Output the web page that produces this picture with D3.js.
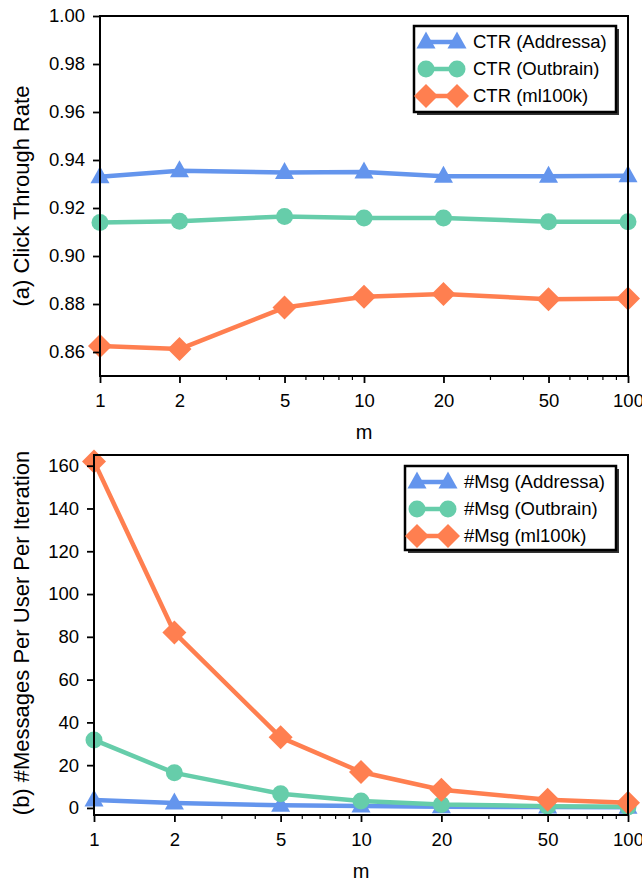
<!DOCTYPE html>
<html>
<head>
<meta charset="utf-8">
<script src="https://cdn.jsdelivr.net/npm/d3@7"></script>
<style>
  body { margin: 0; background: #fff; }
  text { font-family: "Liberation Sans", Arial, sans-serif; fill: #000; }
</style>
</head>
<body>
<svg width="642" height="887"></svg>
<script>
const svg = d3.select('svg');

// data
const mValues = [1, 2, 5, 10, 20, 50, 100];
const xTickLabels = ['1', '2', '5', '10', '20', '50', '100'];
const minorTicks = [3, 4, 6, 7, 8, 9, 30, 40, 60, 70, 80, 90];

const ctrAddressa = [0.9330, 0.9355, 0.9348, 0.9350, 0.9332, 0.9332, 0.9334];
const ctrOutbrain = [0.9140, 0.9145, 0.9165, 0.9158, 0.9158, 0.9143, 0.9143];
const ctrMl100k   = [0.8625, 0.8612, 0.8785, 0.8830, 0.8842, 0.8820, 0.8823];

const msgAddressa = [3.7, 2.3, 1.2, 0.9, 0.6, 0.4, 0.3];
const msgOutbrain = [31.8, 16.4, 6.6, 3.2, 1.6, 0.8, 0.5];
const msgMl100k   = [162, 82, 33, 16.8, 8.5, 3.8, 2.4];

const ctrTicks = [0.86, 0.88, 0.90, 0.92, 0.94, 0.96, 0.98, 1.00];
const msgTicks = [0, 20, 40, 60, 80, 100, 120, 140, 160];

const colors = { addressa: '#6495ED', outbrain: '#66CDAA', ml100k: '#FF7F50' };

// marker shapes (relative to point)
const markerPath = {
  tri: 'M0,-10.5L9.5,6.5L-9.5,6.5Z',
  circ: 'M8.5,0A8.5,8.5 0 1,1 -8.5,0A8.5,8.5 0 1,1 8.5,0Z',
  dia: 'M0,-12L12,0L0,12L-12,0Z'
};

function drawPanel(opts) {
  const x = d3.scaleLog().domain([1, 100]).range([opts.left, opts.right]);
  const y = d3.scaleLinear().domain(opts.yDomain).range([opts.bottom, opts.top]);
  const g = svg.append('g');

  // series
  opts.series.forEach(s => {
    const line = d3.line().x((d, i) => x(mValues[i])).y(d => y(d));
    g.append('path')
      .attr('d', line(s.values))
      .attr('fill', 'none')
      .attr('stroke', s.color)
      .attr('stroke-width', 4.5)
      .attr('stroke-linejoin', 'round');
    g.selectAll(null).data(s.values).enter().append('path')
      .attr('d', markerPath[s.marker])
      .attr('transform', (d, i) => `translate(${x(mValues[i])},${y(d)})`)
      .attr('fill', s.color);
  });

  // frame
  g.append('rect')
    .attr('x', opts.left).attr('y', opts.top)
    .attr('width', opts.right - opts.left).attr('height', opts.bottom - opts.top)
    .attr('fill', 'none').attr('stroke', '#000').attr('stroke-width', 2);

  // x axis
  const xAxis = g.append('g').attr('transform', `translate(0,${opts.bottom})`)
    .call(d3.axisBottom(x).tickValues(mValues).tickFormat((d, i) => xTickLabels[i])
      .tickSize(7).tickPadding(11));
  xAxis.select('.domain').remove();
  xAxis.selectAll('line').attr('stroke-width', 1.8);
  xAxis.selectAll('text').attr('font-size', 18.5);
  const xMinor = g.append('g').attr('transform', `translate(0,${opts.bottom})`)
    .call(d3.axisBottom(x).tickValues(minorTicks).tickFormat('').tickSize(4));
  xMinor.select('.domain').remove();
  xMinor.selectAll('line').attr('stroke-width', 1.2);

  // y axis
  const yAxis = g.append('g').attr('transform', `translate(${opts.left},0)`)
    .call(d3.axisLeft(y).tickValues(opts.yTicks).tickFormat(opts.yFormat)
      .tickSize(7).tickPadding(8));
  yAxis.select('.domain').remove();
  yAxis.selectAll('line').attr('stroke-width', 1.8);
  yAxis.selectAll('text').attr('font-size', 18.5);

  // labels
  g.append('text')
    .attr('x', (opts.left + opts.right) / 2).attr('y', opts.bottom + 63)
    .attr('text-anchor', 'middle').attr('font-size', 20).text('m');
  g.append('text')
    .attr('transform', `translate(${opts.yLabelX},${opts.yLabelY}) rotate(-90)`)
    .attr('text-anchor', 'middle').attr('font-size', 22).text(opts.yLabel);

  // legend
  const L = opts.legend;
  const lg = g.append('g').attr('transform', `translate(${L.x},${L.y})`);
  lg.append('rect').attr('x', 3).attr('y', 3).attr('width', L.w).attr('height', L.h)
    .attr('fill', '#333');
  lg.append('rect').attr('width', L.w).attr('height', L.h)
    .attr('fill', '#fff').attr('stroke', '#000').attr('stroke-width', 2.5);
  opts.series.forEach((s, i) => {
    const cy = 16 + i * 27;
    lg.append('line').attr('x1', 12).attr('x2', 43).attr('y1', cy).attr('y2', cy)
      .attr('stroke', s.color).attr('stroke-width', 4.5);
    [12, 43].forEach(cx => lg.append('path').attr('d', markerPath[s.marker])
      .attr('transform', `translate(${cx},${cy})`).attr('fill', s.color));
    lg.append('text').attr('x', L.tx).attr('y', cy).attr('dy', '0.35em')
      .attr('font-size', 18.5).text(s.label);
  });
}

drawPanel({
  left: 100, right: 628, top: 16, bottom: 376,
  yDomain: [0.85, 1.0], yTicks: ctrTicks, yFormat: d3.format('.2f'),
  yLabel: '(a) Click Through Rate', yLabelX: 29, yLabelY: 196,
  legend: { x: 414, y: 26, w: 202, h: 86, tx: 59 },
  series: [
    { values: ctrAddressa, color: colors.addressa, marker: 'tri', label: 'CTR (Addressa)' },
    { values: ctrOutbrain, color: colors.outbrain, marker: 'circ', label: 'CTR (Outbrain)' },
    { values: ctrMl100k, color: colors.ml100k, marker: 'dia', label: 'CTR (ml100k)' }
  ]
});

drawPanel({
  left: 94, right: 628, top: 455, bottom: 815,
  yDomain: [-3.3, 165], yTicks: msgTicks, yFormat: d3.format('d'),
  yLabel: '(b) #Messages Per User Per Iteration', yLabelX: 29, yLabelY: 633,
  legend: { x: 405, y: 466, w: 211, h: 84, tx: 59 },
  series: [
    { values: msgAddressa, color: colors.addressa, marker: 'tri', label: '#Msg (Addressa)' },
    { values: msgOutbrain, color: colors.outbrain, marker: 'circ', label: '#Msg (Outbrain)' },
    { values: msgMl100k, color: colors.ml100k, marker: 'dia', label: '#Msg (ml100k)' }
  ]
});
</script>
</body>
</html>
